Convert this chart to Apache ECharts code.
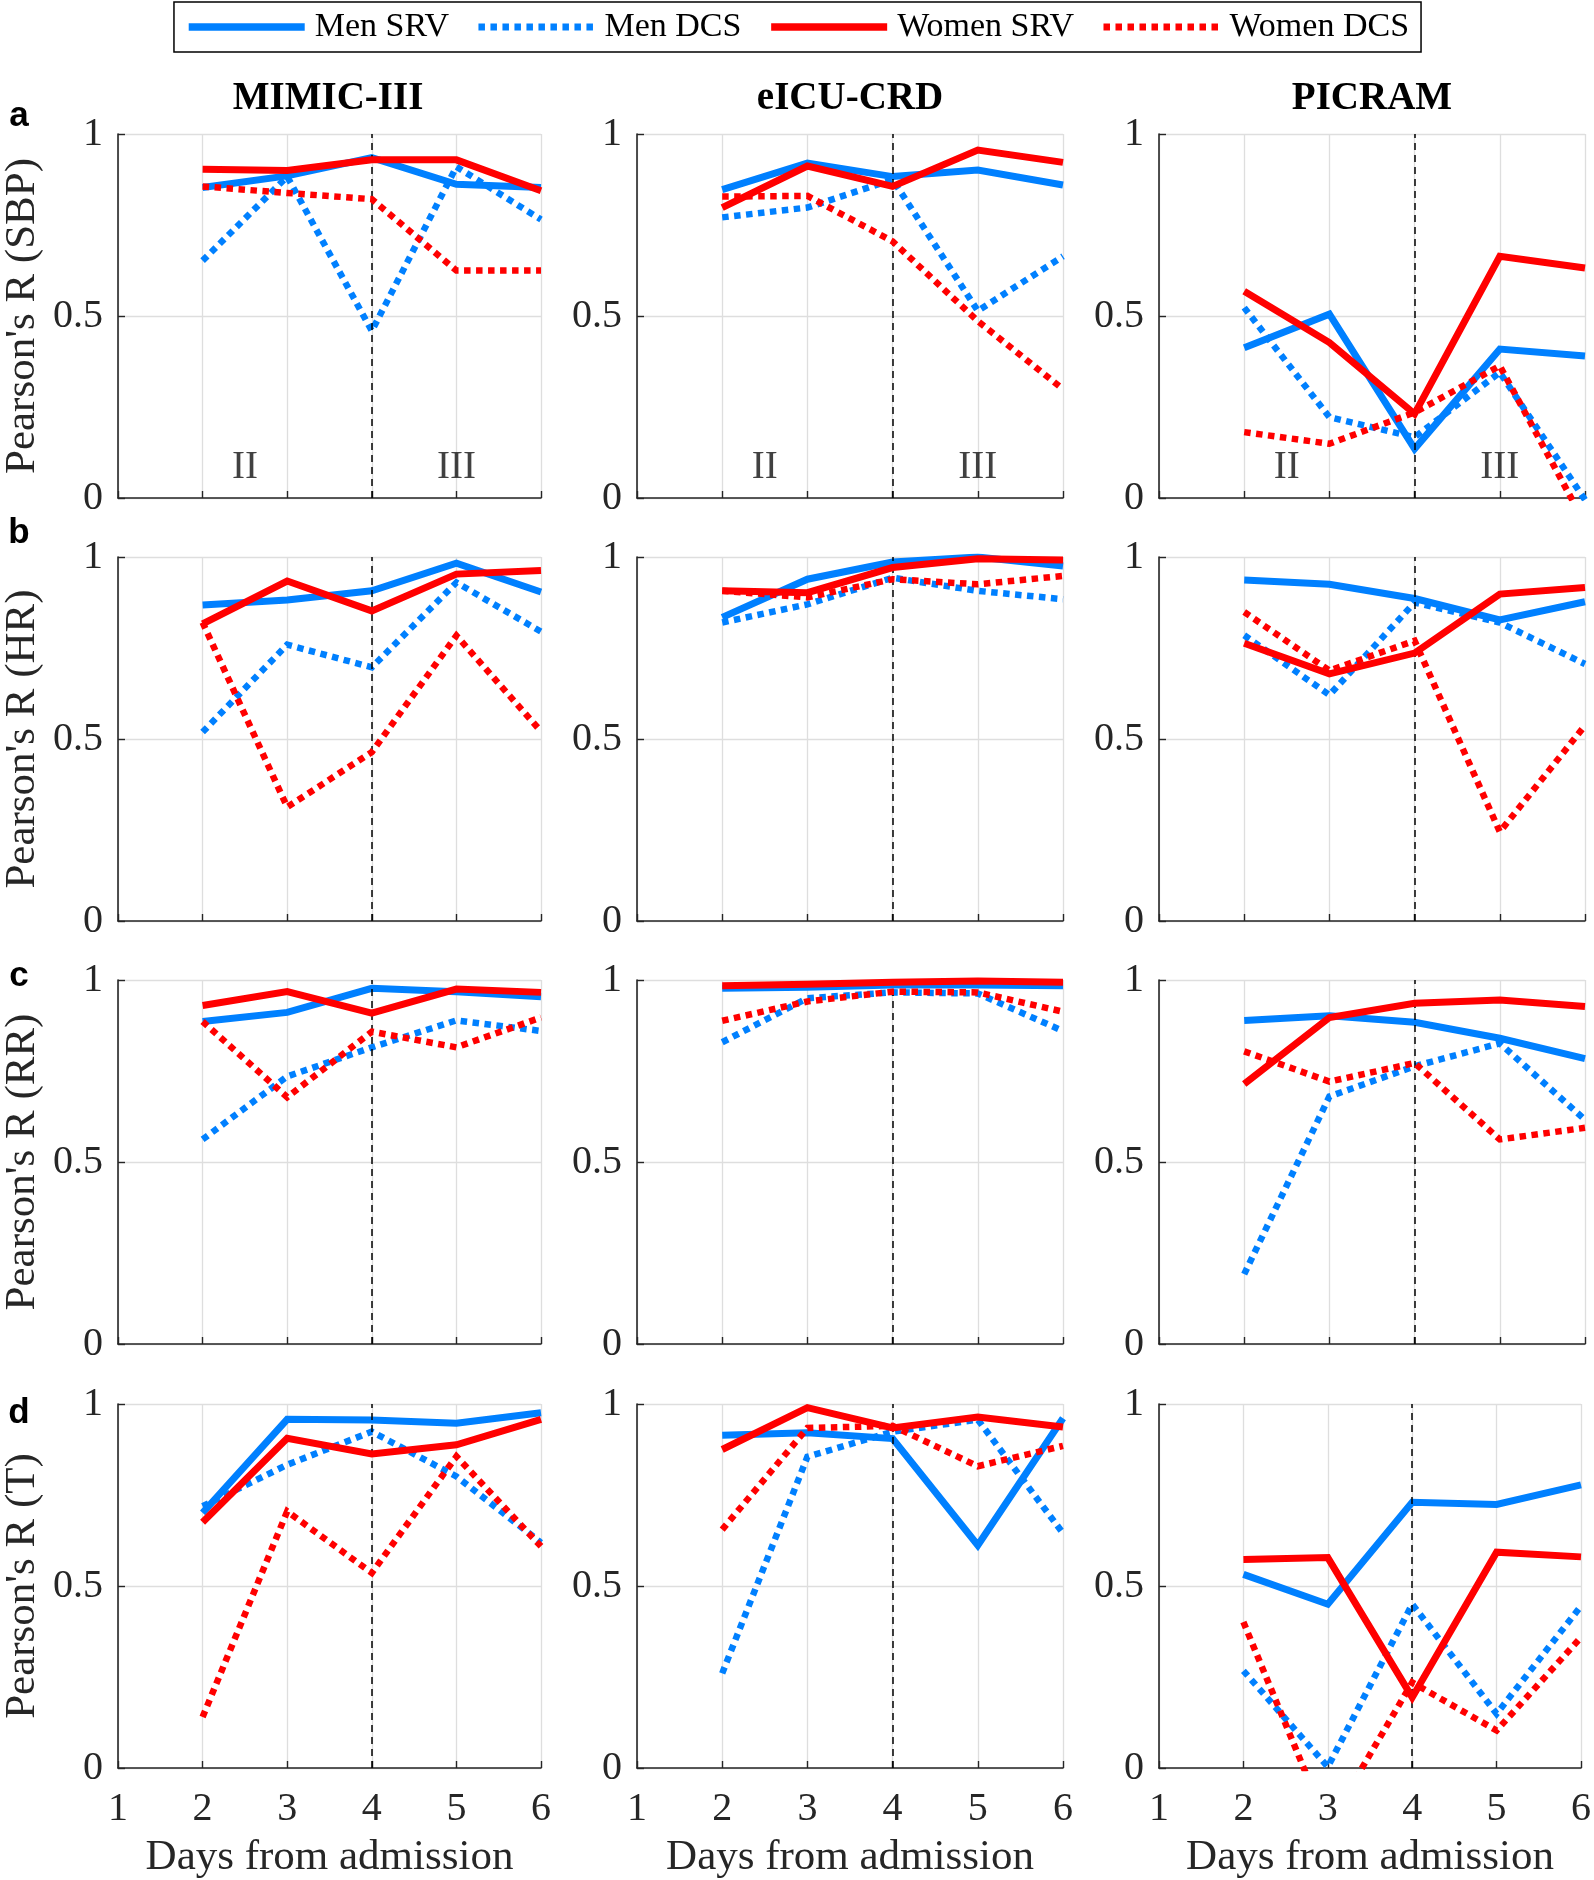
<!DOCTYPE html>
<html><head><meta charset="utf-8">
<script src="https://cdn.jsdelivr.net/npm/echarts@6/dist/echarts.min.js"></script>
<style>html,body{margin:0;padding:0;background:#fff}#c{width:1594px;height:1880px}</style>
</head><body><div id="c"></div>
<script>
// ---------- data ----------
const days = [2, 3, 4, 5, 6];
const seriesNames = ['Men SRV', 'Men DCS', 'Women SRV', 'Women DCS'];
const datasetNames = ['MIMIC-III', 'eICU-CRD', 'PICRAM'];
const vitalNames = ['SBP', 'HR', 'RR', 'T'];
const rowLetters = ['a', 'b', 'c', 'd'];
const phaseLabels = ['II', 'III'];
const phaseX = [2.5, 5];
const phaseY = 0.082;
const dividerDay = 4;

// each: [Men SRV, Men DCS, Women SRV, Women DCS] over days 2..6
const mimic_SBP = [
  [0.853, 0.885, 0.935, 0.862, 0.853],
  [0.652, 0.883, 0.459, 0.910, 0.765],
  [0.903, 0.900, 0.929, 0.929, 0.844],
  [0.856, 0.838, 0.821, 0.625, 0.625]
];
const eicu_SBP = [
  [0.847, 0.920, 0.883, 0.901, 0.860],
  [0.771, 0.798, 0.875, 0.514, 0.664],
  [0.798, 0.912, 0.856, 0.956, 0.922],
  [0.828, 0.830, 0.705, 0.486, 0.299]
];
const picram_SBP = [
  [0.413, 0.505, 0.135, 0.409, 0.390],
  [0.523, 0.222, 0.167, 0.345, -0.005],
  [0.568, 0.427, 0.231, 0.664, 0.632],
  [0.181, 0.149, 0.235, 0.363, -0.070]
];
const mimic_HR = [
  [0.868, 0.882, 0.907, 0.983, 0.904],
  [0.519, 0.759, 0.697, 0.930, 0.795],
  [0.816, 0.934, 0.852, 0.953, 0.963],
  [0.820, 0.313, 0.464, 0.784, 0.521]
];
const eicu_HR = [
  [0.834, 0.939, 0.986, 1.000, 0.975],
  [0.820, 0.870, 0.943, 0.907, 0.884],
  [0.907, 0.902, 0.971, 0.995, 0.992],
  [0.907, 0.889, 0.939, 0.925, 0.948]
];
const picram_HR = [
  [0.937, 0.925, 0.886, 0.827, 0.877],
  [0.785, 0.621, 0.875, 0.820, 0.706],
  [0.763, 0.679, 0.736, 0.898, 0.916],
  [0.849, 0.688, 0.770, 0.245, 0.537]
];
const mimic_RR = [
  [0.886, 0.911, 0.977, 0.968, 0.954],
  [0.562, 0.735, 0.815, 0.889, 0.860],
  [0.930, 0.968, 0.909, 0.975, 0.966],
  [0.886, 0.678, 0.858, 0.815, 0.897]
];
const eicu_RR = [
  [0.977, 0.980, 0.986, 0.986, 0.984],
  [0.829, 0.950, 0.966, 0.963, 0.860],
  [0.984, 0.988, 0.994, 0.997, 0.994],
  [0.888, 0.941, 0.968, 0.966, 0.913]
];
const picram_RR = [
  [0.889, 0.902, 0.884, 0.840, 0.784],
  [0.192, 0.680, 0.763, 0.826, 0.616],
  [0.714, 0.897, 0.936, 0.945, 0.927],
  [0.804, 0.721, 0.772, 0.562, 0.594]
];
const mimic_T = [
  [0.701, 0.958, 0.956, 0.947, 0.976],
  [0.719, 0.833, 0.924, 0.801, 0.619],
  [0.675, 0.906, 0.863, 0.888, 0.958],
  [0.140, 0.705, 0.536, 0.856, 0.609]
];
const eicu_T = [
  [0.914, 0.921, 0.905, 0.612, 0.961],
  [0.260, 0.855, 0.924, 0.957, 0.645],
  [0.875, 0.990, 0.934, 0.964, 0.937],
  [0.655, 0.934, 0.940, 0.829, 0.885]
];
const picram_T = [
  [0.532, 0.450, 0.730, 0.724, 0.778],
  [0.267, 0.003, 0.450, 0.149, 0.445],
  [0.573, 0.578, 0.194, 0.593, 0.580],
  [0.401, -0.160, 0.235, 0.103, 0.359]
];

const panels = [
  [mimic_SBP, eicu_SBP, picram_SBP],
  [mimic_HR, eicu_HR, picram_HR],
  [mimic_RR, eicu_RR, picram_RR],
  [mimic_T, eicu_T, picram_T]
];

// ---------- layout / style ----------
const BLUE = '#0080ff', RED = '#ff0000', AX = '#262626', GRID = '#dedede';
const SERIF = '"Liberation Serif", "Times New Roman", serif';
const colLeft = [115, 637, 1159];
const rowTop = [134, 557, 980, 1404];
const W = 426, H = 364;
const seriesColors = [BLUE, BLUE, RED, RED];
const DOT = [6.5, 5.5];
const seriesDash = ['solid', DOT, 'solid', DOT];
const seriesWidth = [7, 6.5, 7, 6.5];

const grid = [], xAxis = [], yAxis = [], series = [], graphic = [];
let k = 0;
for (let r = 0; r < 4; r++) {
  for (let c = 0; c < 3; c++) {
    grid.push({left: colLeft[c], top: rowTop[r], width: W, height: H, containLabel: false});
    xAxis.push({
      type: 'value', gridIndex: k, min: 1, max: 6, interval: 1,
      axisLine: {show: true, onZero: false, lineStyle: {color: AX, width: 1.6}},
      axisTick: {show: true, inside: true, length: 7, lineStyle: {color: AX, width: 1.4}},
      axisLabel: {show: r === 3, fontFamily: SERIF, fontSize: 40, color: AX, margin: 21},
      splitLine: {show: true, lineStyle: {color: GRID, width: 1.3}},
      name: r === 3 ? 'Days from admission' : '',
      nameLocation: 'middle', nameGap: 68,
      nameTextStyle: {fontFamily: SERIF, fontSize: 43, color: AX}
    });
    yAxis.push({
      type: 'value', gridIndex: k, min: 0, max: 1, interval: 0.5,
      axisLine: {show: true, onZero: false, lineStyle: {color: AX, width: 1.6}},
      axisTick: {show: true, inside: true, length: 7, lineStyle: {color: AX, width: 1.4}},
      axisLabel: {show: true, fontFamily: SERIF, fontSize: 40, color: AX, margin: 15},
      splitLine: {show: true, lineStyle: {color: GRID, width: 1.3}},
      name: c === 0 ? "Pearson's R (" + vitalNames[r] + ")" : '',
      nameLocation: 'middle', nameRotate: 90, nameGap: 74,
      nameTextStyle: {fontFamily: SERIF, fontSize: 43, color: AX}
    });
    const vals = panels[r][c];
    for (let s = 0; s < 4; s++) {
      series.push({
        name: seriesNames[s], type: 'line', xAxisIndex: k, yAxisIndex: k,
        data: days.map((d, i) => [d, vals[s][i]]),
        symbol: 'none', showSymbol: false, clip: true, silent: true, z: 3 + s,
        itemStyle: {color: seriesColors[s]},
        lineStyle: {color: seriesColors[s], width: seriesWidth[s], type: seriesDash[s], cap: 'butt', join: 'miter'}
      });
    }
    series.push({
      name: 'divider', type: 'line', xAxisIndex: k, yAxisIndex: k, data: [], silent: true, z: 10,
      markLine: {
        silent: true, symbol: ['none', 'none'], label: {show: false}, animation: false,
        lineStyle: {color: '#000', type: [7, 5], width: 1.5},
        data: [{xAxis: dividerDay}]
      }
    });
    if (r === 0) {
      series.push({
        name: 'phase', type: 'scatter', xAxisIndex: k, yAxisIndex: k, silent: true,
        symbolSize: 1, itemStyle: {color: 'rgba(0,0,0,0)'},
        data: phaseX.map((x, i) => ({value: [x, phaseY], label: {formatter: phaseLabels[i]}})),
        label: {show: true, position: 'inside', fontFamily: SERIF, fontSize: 39, color: '#111'}
      });
    }
    k++;
  }
}
for (let c = 0; c < 3; c++) {
  graphic.push({type: 'text', x: colLeft[c] + W / 2, y: 99,
    style: {text: datasetNames[c], fontFamily: SERIF, fontWeight: 'bold', fontSize: 39, fill: '#000', align: 'center', verticalAlign: 'middle'}});
}
const letterY = [116, 533, 976, 1413];
for (let r = 0; r < 4; r++) {
  graphic.push({type: 'text', x: 19, y: letterY[r],
    style: {text: rowLetters[r], fontFamily: '"Liberation Sans", Arial, sans-serif', fontWeight: 'bold', fontSize: 35, fill: '#000', align: 'center', verticalAlign: 'middle'}});
}

const chart = echarts.init(document.getElementById('c'), null, {renderer: 'canvas'});
chart.setOption({
  backgroundColor: '#fff',
  animation: false,
  legend: {
    data: seriesNames.map((n, s) => ({
      name: n,
      itemStyle: {opacity: 0},
      lineStyle: {color: seriesColors[s], width: seriesWidth[s] + 0.5, type: seriesDash[s], cap: 'butt'}
    })),
    top: 2, left: 'center', orient: 'horizontal',
    itemWidth: 116, itemHeight: 14, itemGap: 26, selectedMode: false,
    padding: [8, 12, 8, 11], borderColor: '#000', borderWidth: 1.5,
    textStyle: {fontFamily: SERIF, fontSize: 34, color: '#000', padding: [0, 0, 0, 5]}
  },
  grid, xAxis, yAxis, series, graphic
});
</script></body></html>
